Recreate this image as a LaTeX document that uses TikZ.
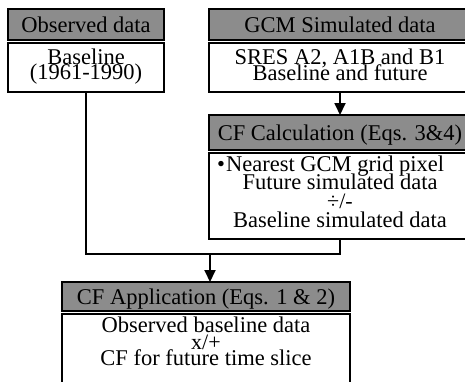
\documentclass[tikz,border=0pt]{standalone}
\usepackage{fontspec}
\setmainfont{Liberation Serif}
\usetikzlibrary{arrows.meta}
\begin{document}
\begin{tikzpicture}[x=1pt,y=-1pt,
  box/.style={draw=black,line width=1.8pt,fill=white,inner sep=0pt,outer sep=0pt,anchor=north west},
  hdr/.style={box,fill=black!45},
  txt/.style={inner sep=0pt,anchor=base,font=\fontsize{22.5}{22.5}\selectfont},
  optxt/.style={inner sep=0pt,anchor=base,font=\fontsize{22}{22}\selectfont},
  conn/.style={draw=black,line width=1.8pt},
  arr/.style={conn,-{Triangle[width=11pt,length=12pt]}}]
\useasboundingbox (0,0) rectangle (465,381);
\clip (0,0) rectangle (465,381);
% boxes
\node[hdr,minimum width=156pt,minimum height=31pt] (obsH) at (8,9) {};
\node[box,minimum width=156pt,minimum height=49pt] (obsB) at (8,43) {};
\node[hdr,minimum width=262pt,minimum height=31pt] (gcmH) at (209,9) {};
\node[box,minimum width=262pt,minimum height=49pt] (sresB) at (209,43) {};
\node[hdr,minimum width=262pt,minimum height=35pt] (calcH) at (209,115) {};
\node[box,minimum width=262pt,minimum height=86pt] (calcB) at (209,153) {};
\node[hdr,minimum width=288pt,minimum height=29pt] (appH) at (62,282) {};
\node[box,minimum width=288pt,minimum height=90pt] (appB) at (62,314) {};
% texts
\node[txt] (t1) at (86,32) {Observed data};
\node[txt] (t2) at (340,32) {GCM Simulated data};
\node[txt] (t3) at (86,64) {Baseline};
\node[txt] (t4) at (86,79.5) {(1961-1990)};
\node[txt] (t5) at (340,64) {SRES A2, A1B and B1};
\node[txt] (t6) at (340,80.5) {Baseline and future};
\node[txt] (t7) at (340,140) {CF Calculation (Eqs. 3\&4)};
\node[txt,anchor=base west] (t8) at (217,171) {•\hspace{1pt}Nearest GCM grid pixel};
\node[txt] (t9) at (340,189) {Future simulated data};
\node[optxt] (t10) at (340,208) {÷/-};
\node[txt] (t11) at (340,227) {Baseline simulated data};
\node[txt] (t12) at (206,304) {CF Application (Eqs. 1 \& 2)};
\node[txt] (t13) at (206,332) {Observed baseline data};
\node[optxt] (t14) at (206,349) {x/+};
\node[txt] (t15) at (206,365.5) {CF for future time slice};
% connectors
\coordinate (mid) at (210,254);
\draw[arr] (sresB.south) -- (calcH.north);
\draw[conn] (obsB.south) |- (mid) -| (calcB.south);
\draw[arr] (mid) -- (mid |- appH.north);
\end{tikzpicture}
\end{document}
